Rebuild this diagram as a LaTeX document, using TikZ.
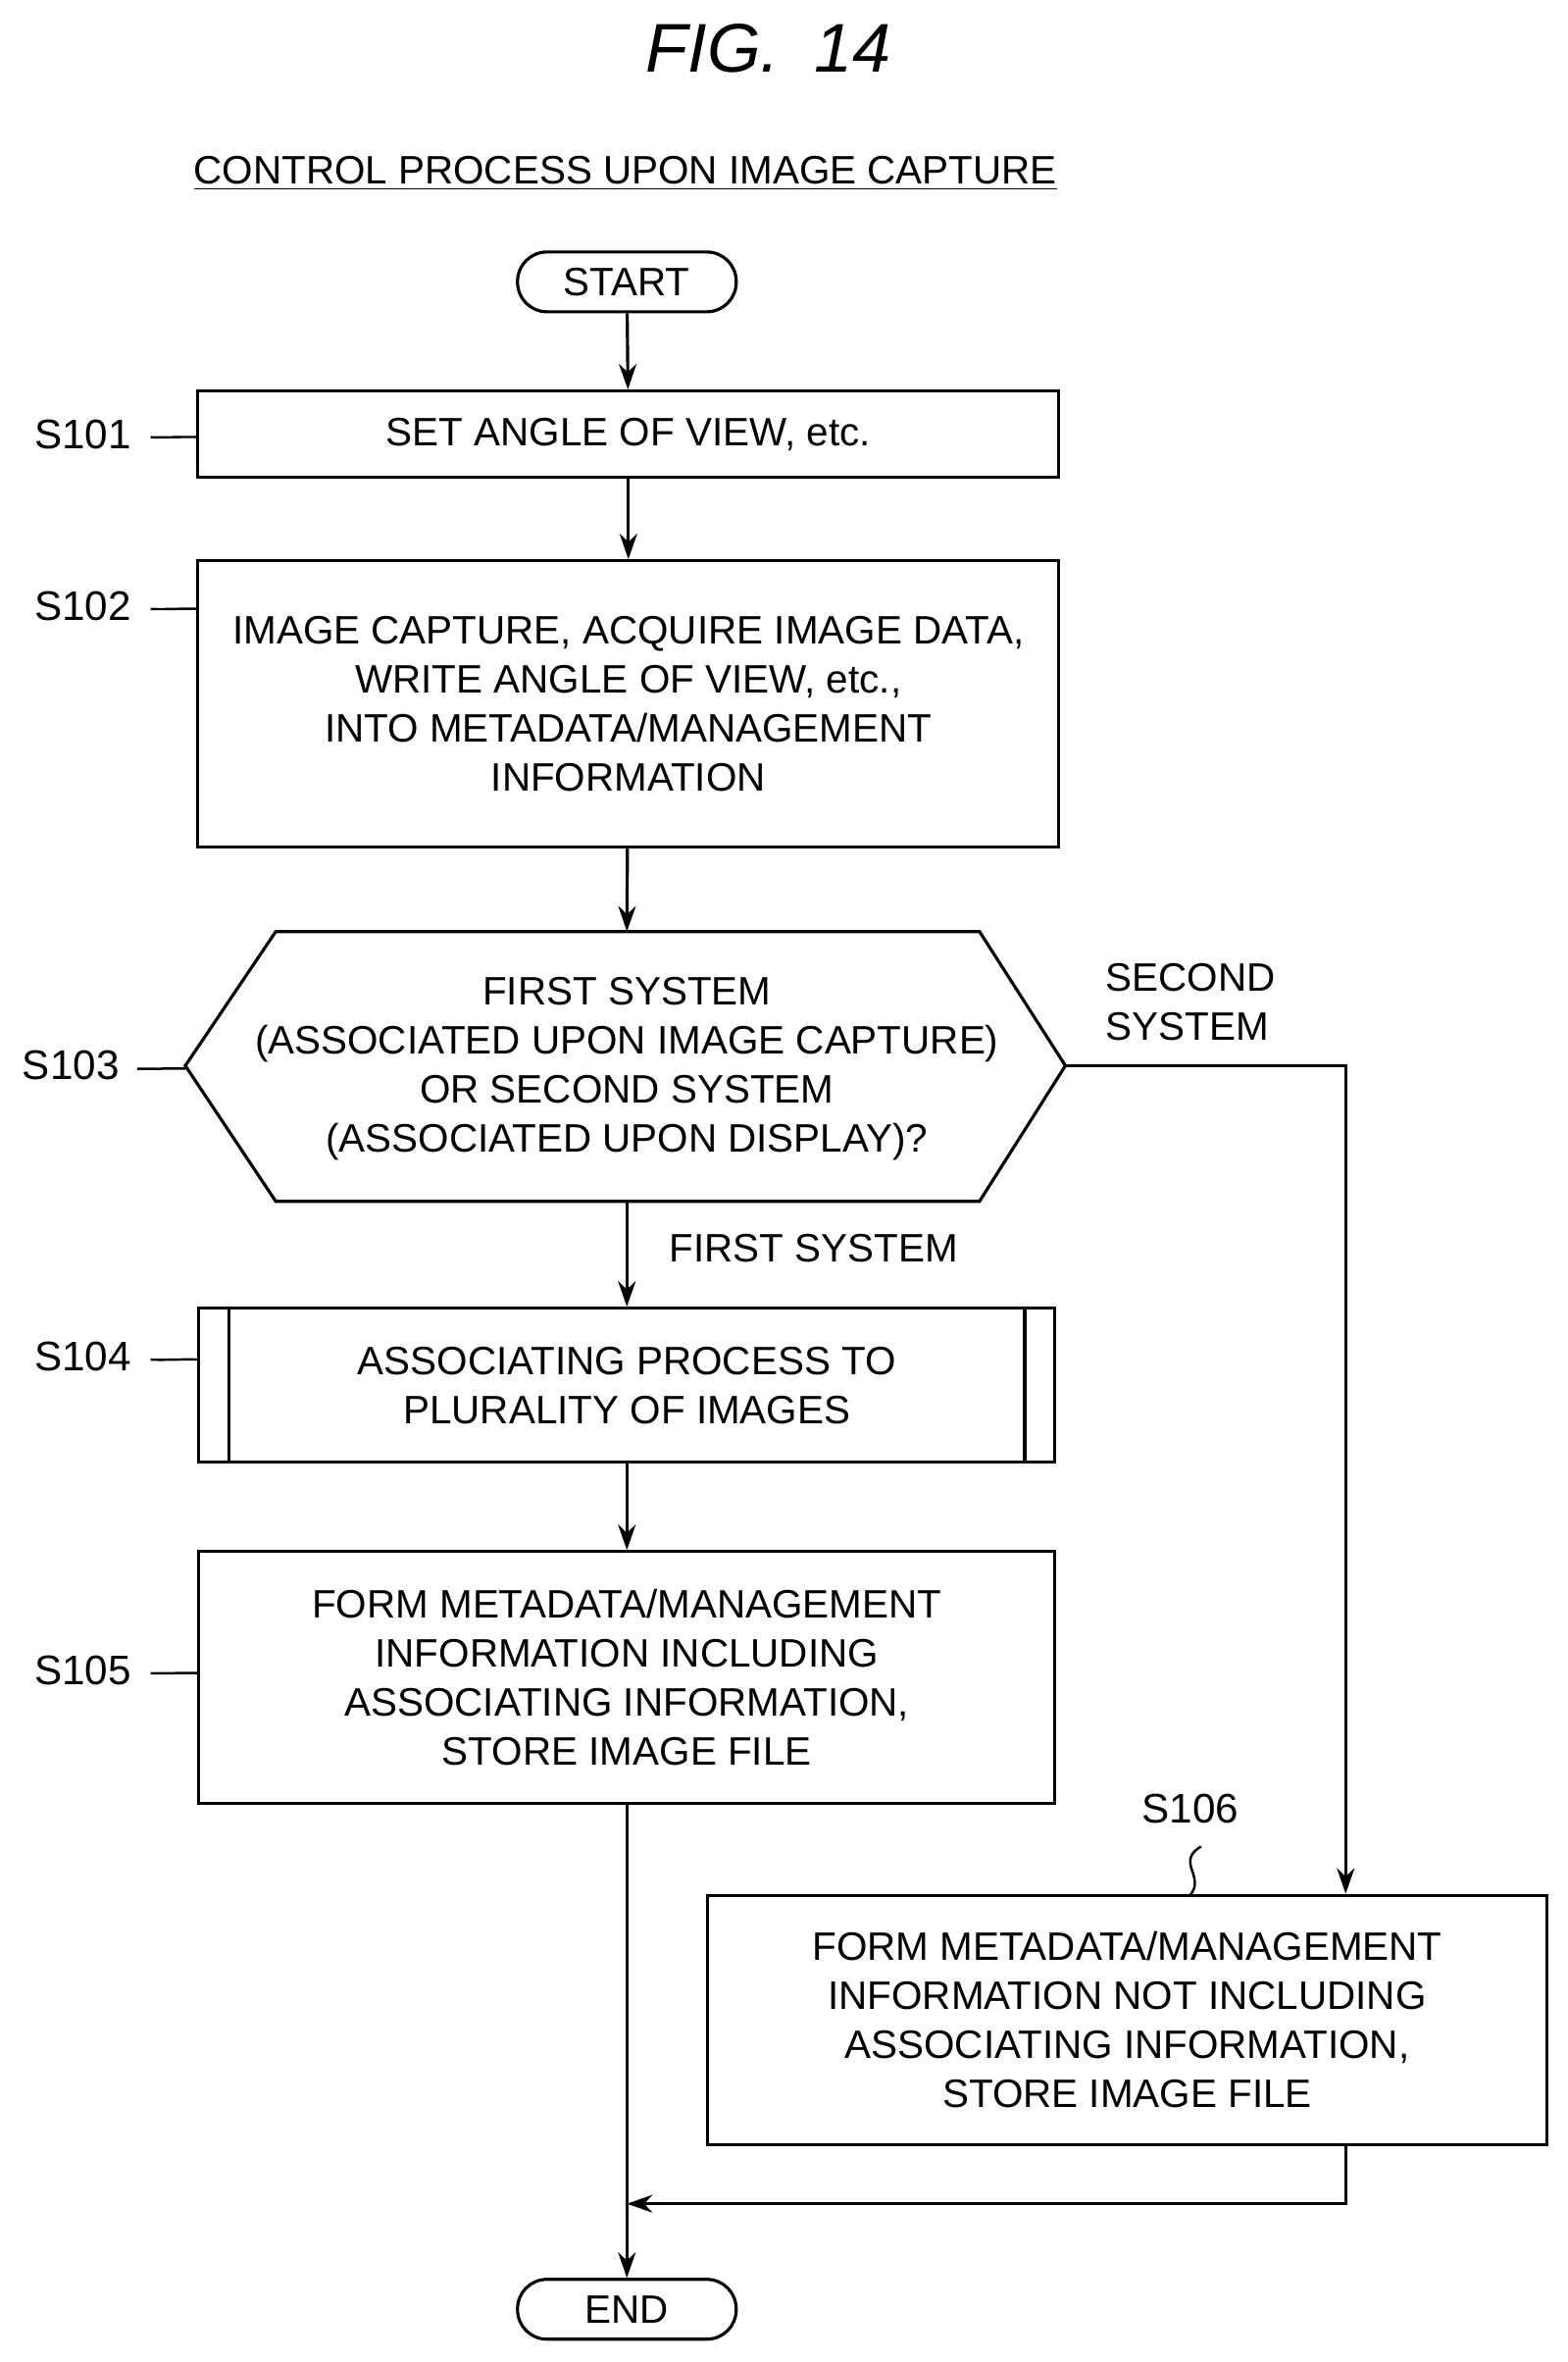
\documentclass[tikz,border=0pt]{standalone}
\usepackage{fontspec}
\setmainfont{Liberation Sans}
\usetikzlibrary{arrows.meta}
\tikzset{
  box/.style={draw, line width=0.9pt, align=center, inner sep=0pt},
  term/.style={box, rounded corners=0.3cm, minimum width=2.23cm, minimum height=0.61cm},
  flow/.style={line width=0.9pt, -{Stealth[length=2.6mm,width=1.8mm]}},
  tag/.style={font=\fontsize{12}{14}\selectfont},
  wave/.style={line width=0.7pt}
}
\newcommand{\squig}[2]{% from (#1) a small wave of length along x
  \draw[wave] (#1) .. controls +(0.1,0.18) and +(-0.1,0.1) .. +(#2/2,0) .. controls +(0.1,-0.1) and +(-0.1,-0.18) .. +(#2,0);}
\begin{document}
\begin{tikzpicture}[x=0.01537cm, y=-0.01537cm, font=\fontsize{11.5}{14.2}\selectfont]
  \useasboundingbox (0,0) rectangle (1040,1567);

  \node[font=\fontsize{20}{24}\selectfont\itshape] (fig) at (510,32) {FIG.\enspace 14};
  \node (title) at (415,115) {\underline{CONTROL PROCESS UPON IMAGE CAPTURE}};

  \node[term] (start) at (416,187) {START};
  \node[box, minimum width=8.78cm, minimum height=0.88cm] (s101) at (417,288) {SET ANGLE OF VIEW, etc.};
  \node[box, minimum width=8.78cm, minimum height=2.92cm] (s102) at (417,467)
    {IMAGE CAPTURE, ACQUIRE IMAGE DATA,\\ WRITE ANGLE OF VIEW, etc.,\\ INTO METADATA/MANAGEMENT\\ INFORMATION};

  % decision
  \coordinate (s103n) at (416,618);
  \coordinate (s103s) at (416,797);
  \coordinate (s103e) at (707,707);
  \coordinate (s103w) at (123,707);
  \draw[line width=0.9pt] (s103w) -- (183,618) -- (650,618) -- (s103e) -- (650,797) -- (183,797) -- cycle;
  \node[align=center] (s103) at (416,709)
    {FIRST SYSTEM\\ (ASSOCIATED UPON IMAGE CAPTURE)\\ OR SECOND SYSTEM\\ (ASSOCIATED UPON DISPLAY)?};

  \node[box, minimum width=8.73cm, minimum height=1.57cm] (s104) at (416,919)
    {ASSOCIATING PROCESS TO\\ PLURALITY OF IMAGES};
  \draw[line width=0.9pt] (152,868) -- (152,970) (680,868) -- (680,970);
  \node[box, minimum width=8.73cm, minimum height=2.57cm] (s105) at (416,1113)
    {FORM METADATA/MANAGEMENT\\ INFORMATION INCLUDING\\ ASSOCIATING INFORMATION,\\ STORE IMAGE FILE};
  \node[box, minimum width=8.56cm, minimum height=2.54cm] (s106) at (748,1340)
    {FORM METADATA/MANAGEMENT\\ INFORMATION NOT INCLUDING\\ ASSOCIATING INFORMATION,\\ STORE IMAGE FILE};
  \node[term] (end) at (416,1532) {END};

  % connectors
  \draw[flow] (start) -- (s101);
  \draw[flow] (s101) -- (s102);
  \draw[flow] (s102) -- (s103n);
  \draw[flow] (s103s) -- (s104) node[pos=0.45, right=0.3cm, anchor=west] {FIRST SYSTEM};
  \draw[flow] (s104) -- (s105);
  \draw[flow] (s105) -- (end);
  \coordinate (turn) at (893,707);
  \draw[flow] (s103e) -- (turn) -- (turn |- s106.north);
  \coordinate (join) at (416,1462);
  \draw[flow] (turn |- s106.south) -- (893,1462) -- (join);
  \node[align=left] (second) at (790,665) {SECOND\\ SYSTEM};

  % step tags
  \node[tag] (t101) at (55,288) {S101};
  \node[tag] (t102) at (55,402) {S102};
  \node[tag] (t103) at (47,707) {S103};
  \node[tag] (t104) at (55,900) {S104};
  \node[tag] (t105) at (55,1108) {S105};
  \node[tag] (t106) at (790,1200) {S106};
  \squig{100,290}{32}
  \squig{100,404}{32}
  \squig{91,709}{32}
  \squig{100,902}{32}
  \squig{100,1110}{32}
  \draw[wave] (797,1225) .. controls (780,1235) and (800,1245) .. (790,1257);
\end{tikzpicture}
\end{document}
